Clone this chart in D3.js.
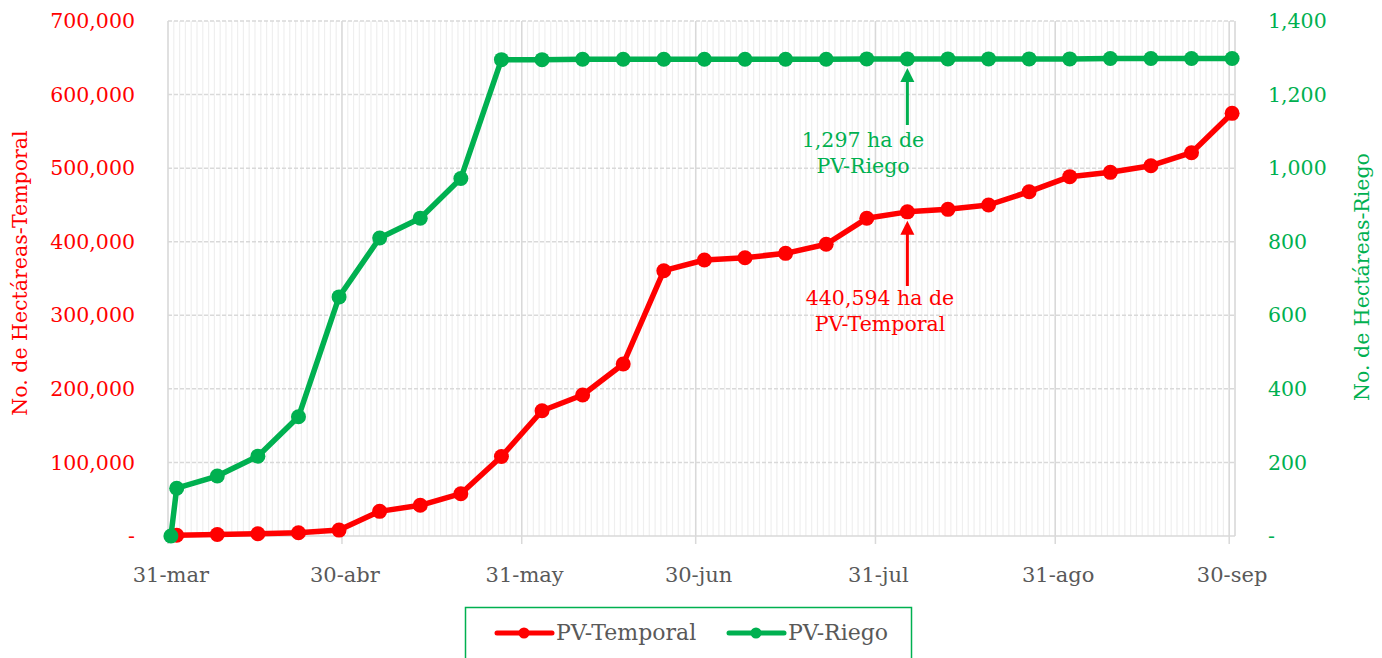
<!DOCTYPE html>
<html lang="es">
<head>
<meta charset="utf-8">
<style>
  body { margin: 0; background: #fff; }
  svg { font-family: "DejaVu Serif", "Liberation Serif", serif; }
  .minor { stroke: #efefef; stroke-width: 1.2px; }
  .major { stroke: #d9d9d9; stroke-width: 1.5px; }
  .hgrid { stroke: #d9d9d9; stroke-width: 1.5px; stroke-dasharray: 4 2; }
  .xlab { fill: #595959; font-size: 21px; }
</style>
<script src="https://d3js.org/d3.v7.min.js"></script>
</head>
<body>
<script>
// ---- data ----
var fechasRiego = ["2021-03-31","2021-04-01","2021-04-08","2021-04-15","2021-04-22","2021-04-29",
  "2021-05-06","2021-05-13","2021-05-20","2021-05-27","2021-06-03","2021-06-10","2021-06-17",
  "2021-06-24","2021-07-01","2021-07-08","2021-07-15","2021-07-22","2021-07-29","2021-08-05",
  "2021-08-12","2021-08-19","2021-08-26","2021-09-02","2021-09-09","2021-09-16","2021-09-23","2021-09-30"];
var riego = [0, 130, 163, 217, 324, 650, 810, 864, 972, 1295, 1295, 1296, 1296,
  1296, 1296, 1296, 1296, 1296, 1297, 1297, 1297, 1297, 1297, 1297, 1298, 1298, 1298, 1298];

var fechasTemporal = fechasRiego.slice(1);
var temporal = [1000, 2000, 3000, 4500, 8000, 33500, 41700, 57500, 108000, 170300, 191600, 233800,
  360600, 375100, 378300, 384200, 396500, 431800, 440594, 444000, 449900, 468000, 488400,
  494300, 503300, 521000, 574500];

var xTickDates = ["2021-03-31","2021-04-30","2021-05-31","2021-06-30","2021-07-31","2021-08-31","2021-09-30"];
var xTickLabels = ["31-mar","30-abr","31-may","30-jun","31-jul","31-ago","30-sep"];
var leftTicks = [0, 100000, 200000, 300000, 400000, 500000, 600000, 700000];
var rightTicks = [0, 200, 400, 600, 800, 1000, 1200, 1400];

var ROJO = "#ff0000", VERDE = "#00b050";

// ---- setup ----
var W = 1382, H = 658;
var pL = 168, pR = 1235, pT = 21, pB = 536;
var parse = d3.utcParse("%Y-%m-%d");

var svg = d3.select("body").append("svg")
  .attr("width", W)
  .attr("height", H);

var x = d3.scaleUtc()
  .domain([parse("2021-03-31"), parse("2021-10-01")])
  .range([pL, pR]);
var yL = d3.scaleLinear().domain([0, 700000]).range([pB, pT]);
var yR = d3.scaleLinear().domain([0, 1400]).range([pB, pT]);

// points sit in the middle of their day
function xp(s) { return x(d3.utcHour.offset(parse(s), 12)); }

// daily minor gridlines
svg.append("g").selectAll("line")
  .data(d3.utcDay.range(x.domain()[0], d3.utcDay.offset(x.domain()[1], 1)))
  .enter().append("line")
  .attr("class", "minor")
  .attr("x1", function(d) { return x(d); }).attr("x2", function(d) { return x(d); })
  .attr("y1", pT).attr("y2", pB);

// horizontal gridlines
svg.append("g").selectAll("line")
  .data(leftTicks.slice(1))
  .enter().append("line")
  .attr("class", "hgrid")
  .attr("x1", pL).attr("x2", pR)
  .attr("y1", function(d) { return yL(d); }).attr("y2", function(d) { return yL(d); });

// month-end gridlines + ticks
svg.append("g").selectAll("line")
  .data(xTickDates)
  .enter().append("line")
  .attr("class", "major")
  .attr("x1", function(d) { return x(parse(d)); }).attr("x2", function(d) { return x(parse(d)); })
  .attr("y1", pT).attr("y2", pB + 8);

svg.append("line").attr("class", "major")
  .attr("x1", pR).attr("x2", pR).attr("y1", pT).attr("y2", pB);
svg.append("line").attr("class", "major")
  .attr("x1", pL).attr("x2", pR).attr("y1", pB).attr("y2", pB);

// x labels
svg.append("g").selectAll("text")
  .data(xTickDates)
  .enter().append("text")
  .attr("class", "xlab")
  .attr("x", function(d) { return xp(d); })
  .attr("y", 582)
  .attr("text-anchor", "middle")
  .text(function(d, i) { return xTickLabels[i]; });

var fmt = d3.format(",");

// left axis labels
svg.append("g").selectAll("text")
  .data(leftTicks)
  .enter().append("text")
  .attr("x", 135)
  .attr("y", function(d) { return yL(d); })
  .attr("dy", "0.35em")
  .attr("text-anchor", "end")
  .attr("fill", ROJO)
  .style("font-size", "20.5px")
  .text(function(d) { return d === 0 ? "-" : fmt(d); });

// right axis labels
svg.append("g").selectAll("text")
  .data(rightTicks)
  .enter().append("text")
  .attr("x", 1268)
  .attr("y", function(d) { return yR(d); })
  .attr("dy", "0.35em")
  .attr("fill", VERDE)
  .style("font-size", "20.5px")
  .text(function(d) { return d === 0 ? "-" : fmt(d); });

// axis titles
svg.append("text")
  .attr("transform", "translate(27,273) rotate(-90)")
  .attr("text-anchor", "middle")
  .attr("fill", ROJO)
  .style("font-size", "20.5px")
  .text("No. de Hectáreas-Temporal");

svg.append("text")
  .attr("transform", "translate(1369,277) rotate(-90)")
  .attr("text-anchor", "middle")
  .attr("fill", VERDE)
  .style("font-size", "20.5px")
  .text("No. de Hectáreas-Riego");

// series
function serie(fechas, vals, y, color) {
  var pts = fechas.map(function(f, i) { return [xp(f), y(vals[i])]; });
  var g = svg.append("g");
  g.append("path")
    .attr("d", d3.line()(pts))
    .attr("fill", "none")
    .attr("stroke", color)
    .attr("stroke-width", 5.5)
    .attr("stroke-linejoin", "round");
  g.selectAll("circle")
    .data(pts)
    .enter().append("circle")
    .attr("cx", function(d) { return d[0]; })
    .attr("cy", function(d) { return d[1]; })
    .attr("r", 7.5)
    .attr("fill", color);
}
serie(fechasTemporal, temporal, yL, ROJO);
serie(fechasRiego, riego, yR, VERDE);

// annotations
function flecha(xa, y0, y1, color) {
  svg.append("line")
    .attr("x1", xa).attr("x2", xa)
    .attr("y1", y0).attr("y2", y1 + 12)
    .attr("stroke", color).attr("stroke-width", 3);
  svg.append("path")
    .attr("d", "M" + (xa - 7) + "," + (y1 + 14) + "L" + xa + "," + y1 + "L" + (xa + 7) + "," + (y1 + 14) + "Z")
    .attr("fill", color);
}
var iAnot = fechasRiego.indexOf("2021-08-05");
flecha(xp("2021-08-05"), 125, yR(riego[iAnot]) + 9, VERDE);
flecha(xp("2021-08-05"), 286, yL(temporal[iAnot - 1]) + 9, ROJO);

function nota(cx, y, lineas, color) {
  var t = svg.append("text")
    .attr("text-anchor", "middle")
    .attr("fill", color)
    .style("font-size", "20.5px");
  lineas.forEach(function(l, i) {
    t.append("tspan").attr("x", cx).attr("y", y + i * 26).text(l);
  });
}
nota(863, 147, ["1,297 ha de", "PV-Riego"], VERDE);
nota(880, 305, ["440,594 ha de", "PV-Temporal"], ROJO);

// legend
var leg = svg.append("g");
leg.append("rect")
  .attr("x", 465.5).attr("y", 607.5)
  .attr("width", 446).attr("height", 70)
  .attr("fill", "none")
  .attr("stroke", VERDE)
  .attr("stroke-width", 1.5);
var items = [
  { nombre: "PV-Temporal", color: ROJO, x0: 497 },
  { nombre: "PV-Riego", color: VERDE, x0: 729 }
];
items.forEach(function(it) {
  leg.append("line")
    .attr("x1", it.x0).attr("x2", it.x0 + 55)
    .attr("y1", 633).attr("y2", 633)
    .attr("stroke", it.color).attr("stroke-width", 5)
    .attr("stroke-linecap", "round");
  leg.append("circle")
    .attr("cx", it.x0 + 27).attr("cy", 633).attr("r", 5.5)
    .attr("fill", it.color);
  leg.append("text")
    .attr("x", it.x0 + 59).attr("y", 640)
    .attr("fill", "#595959")
    .style("font-size", "22px")
    .text(it.nombre);
});
</script>
</body>
</html>
